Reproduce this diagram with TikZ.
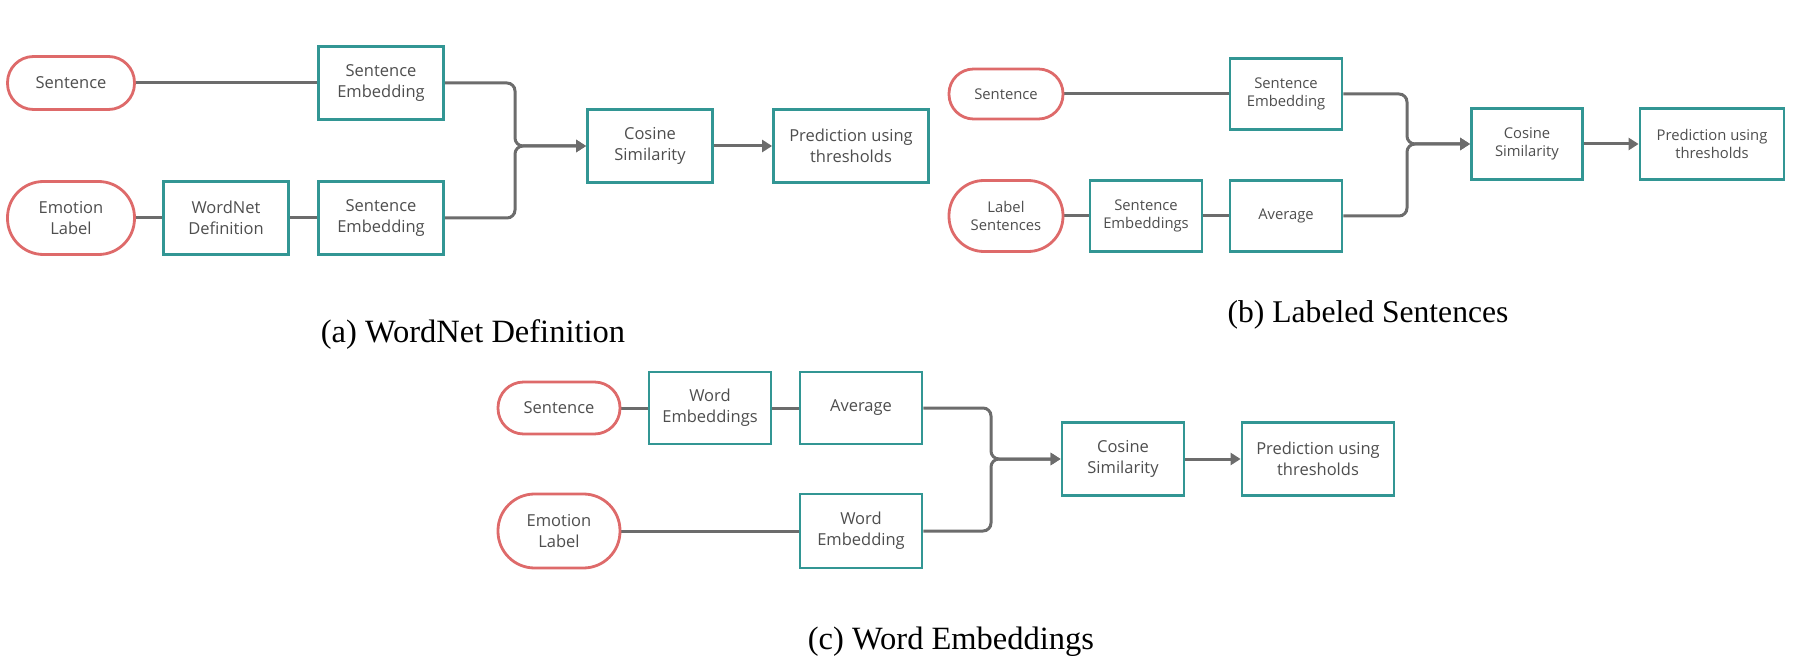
\documentclass[tikz,border=0pt]{standalone}
\usepackage{fontspec}
\setmainfont{Liberation Serif}
\newfontfamily\boxfont{Open Sans}
\usepackage{tikz}
\usetikzlibrary{arrows.meta,backgrounds,positioning}
\definecolor{pillred}{RGB}{222,106,106}
\definecolor{boxteal}{RGB}{50,150,148}
\definecolor{linegray}{RGB}{108,108,108}
\definecolor{textgray}{RGB}{78,78,78}
\tikzstyle{pipeline}=[
  x=0.5bp,y=-0.5bp,>={Triangle[length=5bp,width=6bp]}
]
\tikzstyle{stage}=[
  draw=boxteal,line width=1.4bp,fill=white,inner sep=0pt,align=center,text=textgray
]
\tikzstyle{texta}=[font=\boxfont\fontsize{8.25bp}{10.4bp}\selectfont]
\tikzstyle{textb}=[font=\boxfont\fontsize{7.4bp}{9.3bp}\selectfont]
\tikzstyle{link}=[draw=linegray,line width=1.5bp]
\tikzstyle{merge}=[link,rounded corners=4bp,->]
\tikzstyle{caption}=[anchor=base,font=\fontsize{16.25bp}{19bp}\selectfont]
\tikzset{
  wh/.style 2 args={minimum width=#1bp,minimum height=#2bp},
  pill/.style={stage,draw=pillred,rounded corners=#1bp}
}

\begin{document}
\begin{tikzpicture}[pipeline]
  \useasboundingbox (0,0) rectangle (1798,665);
  % (a) WordNet Definition
  \begin{scope}[texta]
    \node (sentA) at (71,83) [pill=13,wh={63.5}{26.5}] {Sentence};
    \node (emoA) at (71,218) [pill=18,wh={63.5}{36.5}] {Emotion\\Label};
    \node (wnA) at (226,218) [stage,wh={62.5}{36.5}] {WordNet\\Definition};
    \node (seA1) at (381,83) [stage,wh={62.5}{36.5}] {Sentence\\Embedding};
    \node (seA2) at (381,218) [stage,wh={62.5}{36.5}] {Sentence\\Embedding};
    \node (cosA) at (650,146) [stage,wh={62.5}{36.5}] {Cosine\\Similarity};
    \node (predA) at (851,146) [stage,wh={77.5}{36.5}] {Prediction using\\thresholds};
    \coordinate (jA) at (515,146);
  \end{scope}
  % (b) Labeled Sentences
  \begin{scope}[textb]
    \node (sentB) at (1006,94) [pill=12.3,wh={57}{25}] {Sentence};
    \node (lsB) at (1006,216) [pill=17.5,wh={57}{35.5}] {Label\\Sentences};
    \node (sesB) at (1146,216) [stage,wh={56}{35.5}] {Sentence\\Embeddings};
    \node (seB) at (1286,94) [stage,wh={56}{35.5}] {Sentence\\Embedding};
    \node (avgB) at (1286,216) [stage,wh={56}{35.5}] {Average};
    \node (cosB) at (1527,144) [stage,wh={55.5}{35.5}] {Cosine\\Similarity};
    \node (predB) at (1712,144) [stage,wh={72}{35.5}] {Prediction using\\thresholds};
    \coordinate (jB) at (1407,144);
  \end{scope}
  % (c) Word Embeddings
  \begin{scope}[texta]
    \node (sentC) at (559,408) [pill=12.8,wh={61}{26}] {Sentence};
    \node (emoC) at (559,531) [pill=18.3,wh={61}{37}] {Emotion\\Label};
    \node (wesC) at (710,408) [stage,wh={61}{36}] {Word\\Embeddings};
    \node (avgC) at (861,408) [stage,wh={61}{36}] {Average};
    \node (weC) at (861,531) [stage,wh={61}{37}] {Word\\Embedding};
    \node (cosC) at (1123,459) [stage,wh={61}{36.5}] {Cosine\\Similarity};
    \node (predC) at (1318,459) [stage,wh={76}{36.5}] {Prediction using\\thresholds};
    \coordinate (jC) at (991,459);
  \end{scope}
  \begin{scope}[on background layer]
    \draw [link] (sentA) -- (seA1);
    \draw [link] (emoA) -- (wnA) -- (seA2);
    \draw [merge] (seA1.east) -| (jA) -- (cosA.west);
    \draw [merge] (seA2.east) -| (jA) -- (cosA.west);
    \draw [link,->] (cosA) -- (predA);
    \draw [link] (sentB) -- (seB);
    \draw [link] (lsB) -- (sesB) -- (avgB);
    \draw [merge] (seB.east) -| (jB) -- (cosB.west);
    \draw [merge] (avgB.east) -| (jB) -- (cosB.west);
    \draw [link,->] (cosB) -- (predB);
    \draw [link] (sentC) -- (wesC) -- (avgC);
    \draw [link] (emoC) -- (weC);
    \draw [merge] (avgC.east) -| (jC) -- (cosC.west);
    \draw [merge] (weC.east) -| (jC) -- (cosC.west);
    \draw [link,->] (cosC) -- (predC);
  \end{scope}
  \node (capA) at (473,342) [caption] {(a) WordNet Definition};
  \node (capB) at (1368,322) [caption,font=\fontsize{15.8bp}{19bp}\selectfont] {(b) Labeled Sentences};
  \node (capC) at (951,649) [caption] {(c) Word Embeddings};
\end{tikzpicture}
\end{document}
